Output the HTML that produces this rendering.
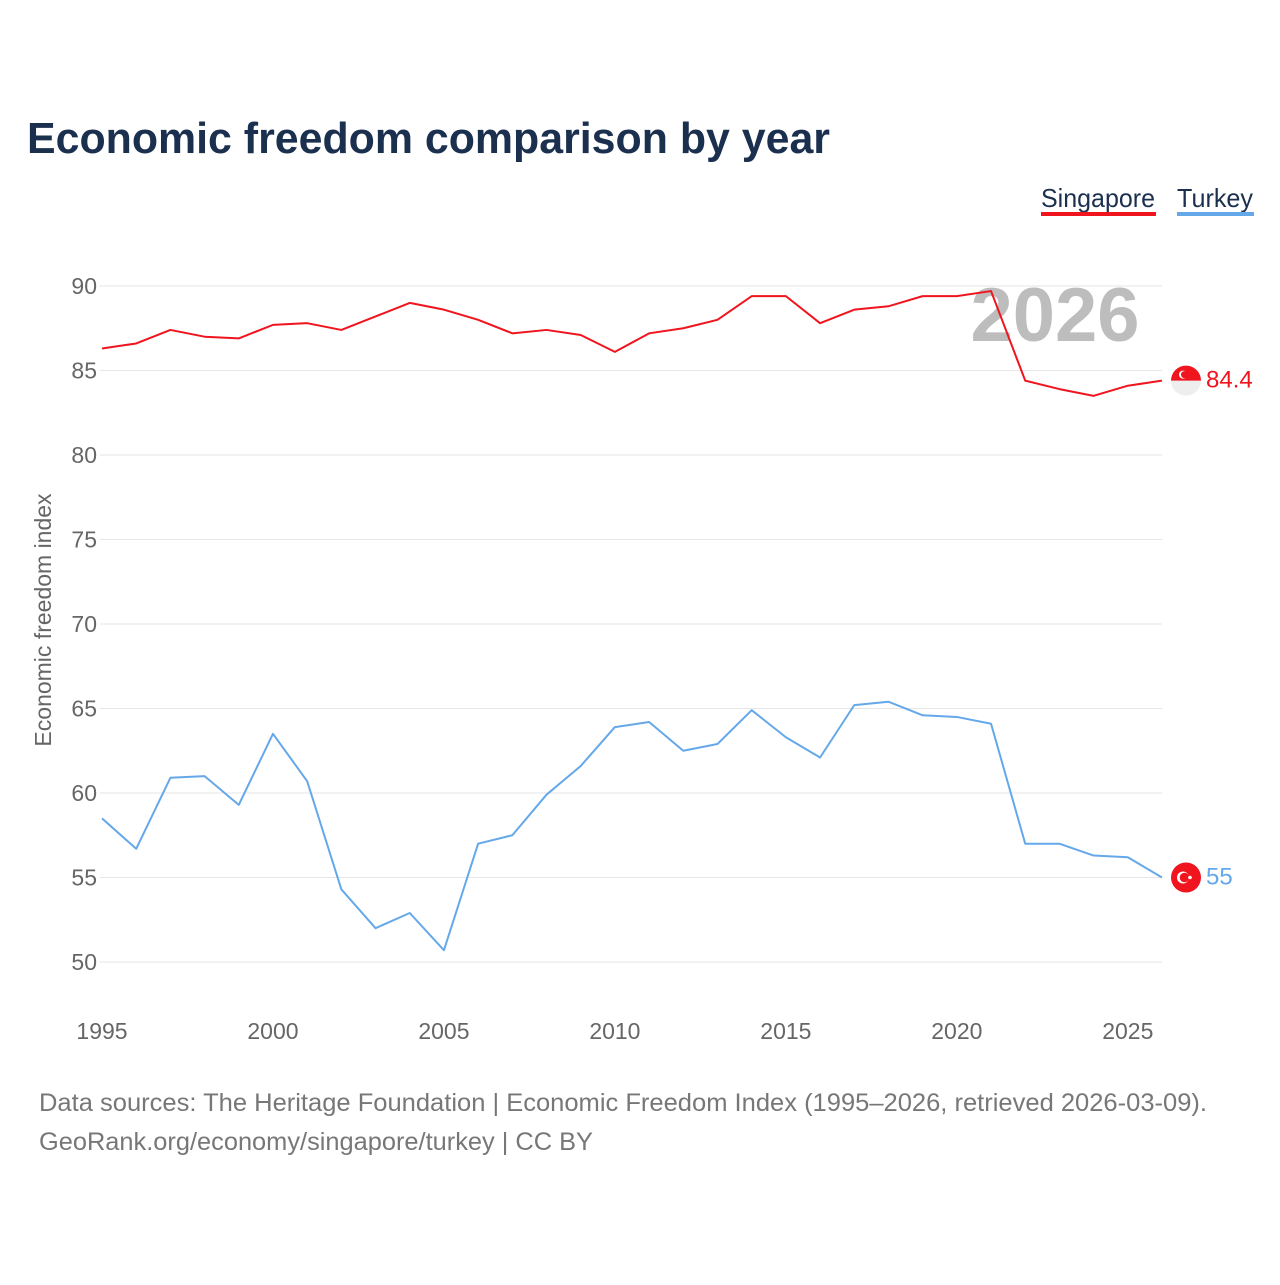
<!DOCTYPE html>
<html><head><meta charset="utf-8"><style>
body{margin:0;background:#fff;font-family:"Liberation Sans",sans-serif;}
</style></head><body>
<svg width="1280" height="1280" viewBox="0 0 1280 1280" xmlns="http://www.w3.org/2000/svg">
<rect width="1280" height="1280" fill="#fff"/>
<text x="27" y="153" font-size="44" font-weight="bold" fill="#1b2f4e" textLength="803" lengthAdjust="spacingAndGlyphs">Economic freedom comparison by year</text>
<g>
<text x="1041" y="207" font-size="26" fill="#1b2f4e" textLength="114" lengthAdjust="spacingAndGlyphs">Singapore</text>
<rect x="1041" y="212" width="115" height="4" fill="#f0141e"/>
<text x="1177" y="207" font-size="26" fill="#1b2f4e" textLength="76" lengthAdjust="spacingAndGlyphs">Turkey</text>
<rect x="1177" y="212" width="77" height="4" fill="#65a8ea"/>
</g>
<g id="grid"></g>
<text x="1055" y="341" font-size="76" font-weight="bold" fill="#bdbdbd" text-anchor="middle">2026</text>
<g id="lines"></g>
<text transform="translate(51,620) rotate(-90)" font-size="23" fill="#666" text-anchor="middle">Economic freedom index</text>
<text x="39" y="1111" font-size="25" fill="#777" textLength="1168" lengthAdjust="spacingAndGlyphs">Data sources: The Heritage Foundation | Economic Freedom Index (1995–2026, retrieved 2026-03-09).</text>
<text x="39" y="1150" font-size="25" fill="#777" textLength="554" lengthAdjust="spacingAndGlyphs">GeoRank.org/economy/singapore/turkey | CC BY</text>
</svg>
<script>
const years=[1995,1996,1997,1998,1999,2000,2001,2002,2003,2004,2005,2006,2007,2008,2009,2010,2011,2012,2013,2014,2015,2016,2017,2018,2019,2020,2021,2022,2023,2024,2025,2026];
const singapore=[86.3,86.6,87.4,87.0,86.9,87.7,87.8,87.4,88.2,89.0,88.6,88.0,87.2,87.4,87.1,86.1,87.2,87.5,88.0,89.4,89.4,87.8,88.6,88.8,89.4,89.4,89.7,84.4,83.9,83.5,84.1,84.4];
const turkey=[58.5,56.7,60.9,61.0,59.3,63.5,60.7,54.3,52.0,52.9,50.7,57.0,57.5,59.9,61.6,63.9,64.2,62.5,62.9,64.9,63.3,62.1,65.2,65.4,64.6,64.5,64.1,57.0,57.0,56.3,56.2,55.0];
const yTicks=[50,55,60,65,70,75,80,85,90];
const xTicks=[1995,2000,2005,2010,2015,2020,2025];
const NS="http://www.w3.org/2000/svg";
const x=v=>102+(v-1995)*(1162-102)/31;
const y=v=>962-(v-50)*(962-286)/40;
function mk(t,a,p){const e=document.createElementNS(NS,t);for(const k in a)e.setAttribute(k,a[k]);p.appendChild(e);return e;}
const g=document.getElementById('grid');
yTicks.forEach(v=>{
 const l=mk('line',{x1:100,x2:1162,y1:y(v),y2:y(v),stroke:'#e6e6e6','stroke-width':1},g);
 
 
 const t=mk('text',{x:97,y:y(v)+8,'font-size':23,fill:'#666','text-anchor':'end'},g);t.textContent=v;
 
 
});
xTicks.forEach(v=>{
 const t=mk('text',{x:x(v),y:1039,'font-size':23,fill:'#666','text-anchor':'middle'},g);t.textContent=v;
 
 
});
const L=document.getElementById('lines');
function series(vals,color,name){
 const p=mk('polyline',{points:vals.map((v,i)=>x(years[i])+','+y(v)).join(' '),fill:'none',stroke:color,'stroke-width':2,'stroke-linejoin':'round'},L);
 
 
 const last=vals[vals.length-1],cx=x(years[years.length-1])+24,cy=y(last);
 return {cx,cy,last};
}
const s=series(singapore,'#f0141e','singapore');
const tk=series(turkey,'#65a8ea','turkey');
const fs=mk('g',{},L);


mk('circle',{cx:s.cx,cy:s.cy,r:15,fill:'#eee'},fs);
mk('path',{d:`M${s.cx-15},${s.cy} A15,15 0 0 1 ${s.cx+15},${s.cy} Z`,fill:'#f0141e'},fs);
mk('circle',{cx:s.cx-3,cy:s.cy-6,r:4,fill:'#fff'},fs);
mk('circle',{cx:s.cx-1.5,cy:s.cy-6,r:3.5,fill:'#f0141e'},fs);
const st=mk('text',{x:s.cx+20,y:s.cy+7,'font-size':24,fill:'#f0141e'},L);st.textContent=s.last;


const ft=mk('g',{},L);


mk('circle',{cx:tk.cx,cy:tk.cy,r:15,fill:'#f0141e'},ft);
mk('circle',{cx:tk.cx-3,cy:tk.cy,r:6,fill:'#fff'},ft);
mk('circle',{cx:tk.cx-1.5,cy:tk.cy,r:4.8,fill:'#f0141e'},ft);
mk('circle',{cx:tk.cx+4,cy:tk.cy,r:1.8,fill:'#fff'},ft);
const tt=mk('text',{x:tk.cx+20,y:tk.cy+7,'font-size':24,fill:'#65a8ea'},L);tt.textContent=tk.last;


</script>
</body></html>
